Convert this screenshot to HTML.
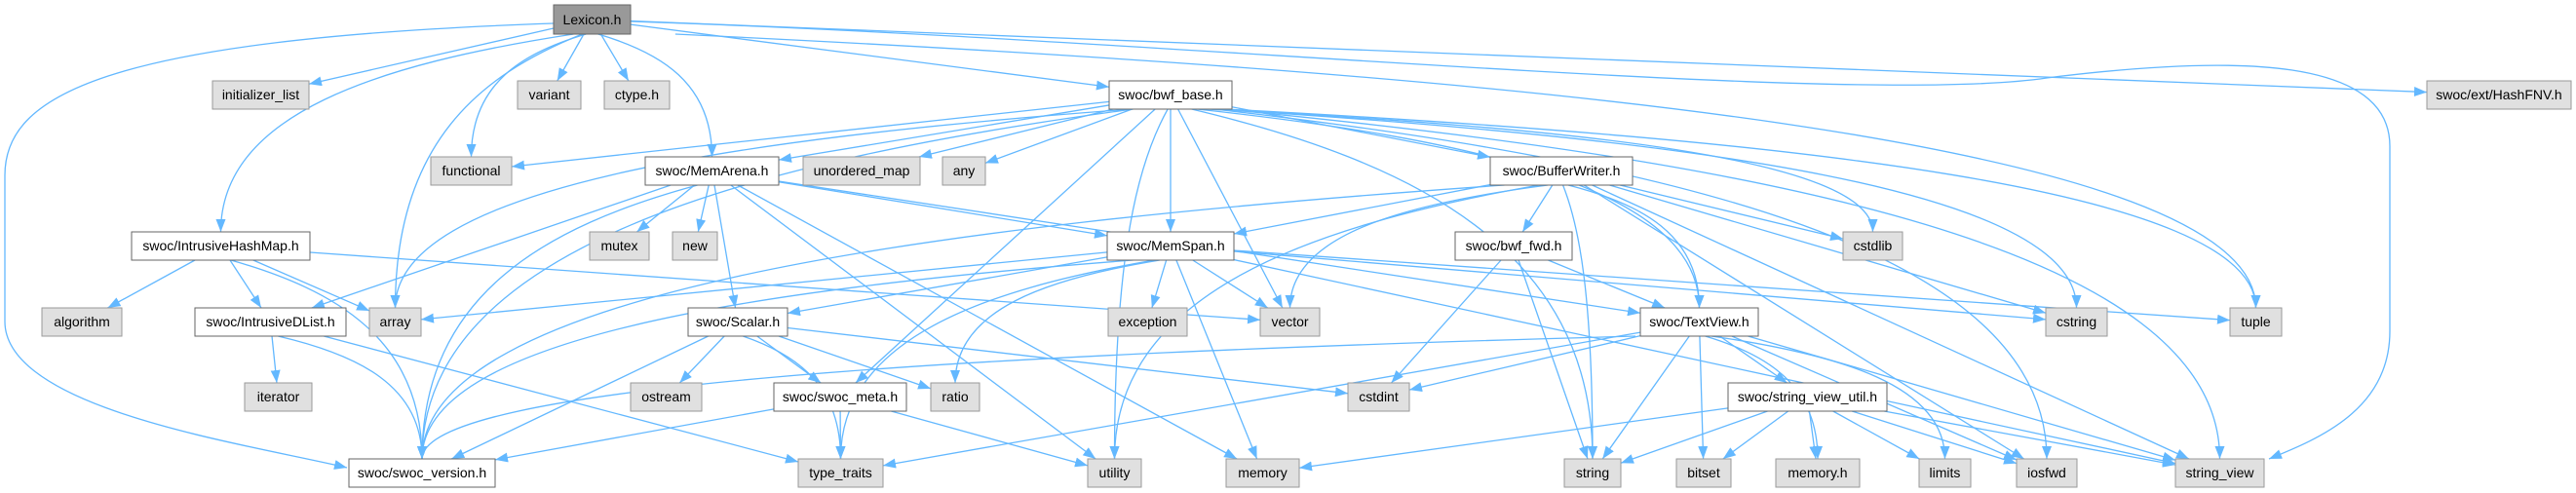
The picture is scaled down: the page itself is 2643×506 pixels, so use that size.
<!DOCTYPE html>
<html><head><meta charset="utf-8">
<style>
html,body{margin:0;padding:0;background:#fff;}
svg{display:block;}
text{font-family:"Liberation Sans",sans-serif;font-size:14px;fill:#000;}
</style></head>
<body>
<svg id="g" width="2643" height="506" viewBox="0 0 2643 506" xmlns="http://www.w3.org/2000/svg">
<defs>
<marker id="ah" markerUnits="userSpaceOnUse" markerWidth="14" markerHeight="12" refX="13" refY="5" orient="auto">
<path d="M0,0 L13,5 L0,10 Z" fill="#63b8ff"/>
</marker>
</defs>
<g id="edges" fill="none" stroke="#63b8ff" stroke-width="1.3">
<path d="M568,24 C100,40 5,100 5,180 L5,330 C5,420 250,455 356,480" marker-end="url(#ah)"/>
<path d="M647,22 C1200,40 1900,110 2100,80 C2300,55 2452,60 2452,150 L2452,340 C2452,420 2380,450 2328,471" marker-end="url(#ah)"/>
</g>
<g id="nodes">
<rect x="568" y="5" width="79" height="30" fill="#999" stroke="#666"/><text x="607.5" y="25" text-anchor="middle">Lexicon.h</text>
<rect x="218" y="83" width="99" height="29" fill="#e0e0e0" stroke="#999"/><text x="267.5" y="102" text-anchor="middle">initializer_list</text>
<rect x="531" y="83" width="65" height="29" fill="#e0e0e0" stroke="#999"/><text x="563.5" y="102" text-anchor="middle">variant</text>
<rect x="620" y="83" width="67" height="29" fill="#e0e0e0" stroke="#999"/><text x="653.5" y="102" text-anchor="middle">ctype.h</text>
<rect x="1138" y="83" width="126" height="29" fill="#fff" stroke="#666"/><text x="1201" y="102" text-anchor="middle">swoc/bwf_base.h</text>
<rect x="2490" y="83" width="148" height="29" fill="#e0e0e0" stroke="#999"/><text x="2564" y="102" text-anchor="middle">swoc/ext/HashFNV.h</text>
<rect x="442" y="161" width="83" height="29" fill="#e0e0e0" stroke="#999"/><text x="483.5" y="180" text-anchor="middle">functional</text>
<rect x="662" y="161" width="137" height="29" fill="#fff" stroke="#666"/><text x="730.5" y="180" text-anchor="middle">swoc/MemArena.h</text>
<rect x="824" y="161" width="120" height="29" fill="#e0e0e0" stroke="#999"/><text x="884" y="180" text-anchor="middle">unordered_map</text>
<rect x="967" y="161" width="44" height="29" fill="#e0e0e0" stroke="#999"/><text x="989" y="180" text-anchor="middle">any</text>
<rect x="1529" y="161" width="146" height="29" fill="#fff" stroke="#666"/><text x="1602" y="180" text-anchor="middle">swoc/BufferWriter.h</text>
<rect x="135" y="238" width="183" height="29" fill="#fff" stroke="#666"/><text x="226.5" y="257" text-anchor="middle">swoc/IntrusiveHashMap.h</text>
<rect x="605" y="238" width="61" height="29" fill="#e0e0e0" stroke="#999"/><text x="635.5" y="257" text-anchor="middle">mutex</text>
<rect x="690" y="238" width="46" height="29" fill="#e0e0e0" stroke="#999"/><text x="713" y="257" text-anchor="middle">new</text>
<rect x="1136" y="238" width="130" height="29" fill="#fff" stroke="#666"/><text x="1201" y="257" text-anchor="middle">swoc/MemSpan.h</text>
<rect x="1493" y="238" width="120" height="29" fill="#fff" stroke="#666"/><text x="1553" y="257" text-anchor="middle">swoc/bwf_fwd.h</text>
<rect x="1891" y="238" width="61" height="29" fill="#e0e0e0" stroke="#999"/><text x="1921.5" y="257" text-anchor="middle">cstdlib</text>
<rect x="43" y="316" width="82" height="29" fill="#e0e0e0" stroke="#999"/><text x="84" y="335" text-anchor="middle">algorithm</text>
<rect x="200" y="316" width="155" height="29" fill="#fff" stroke="#666"/><text x="277.5" y="335" text-anchor="middle">swoc/IntrusiveDList.h</text>
<rect x="379" y="316" width="53" height="29" fill="#e0e0e0" stroke="#999"/><text x="405.5" y="335" text-anchor="middle">array</text>
<rect x="706" y="316" width="102" height="29" fill="#fff" stroke="#666"/><text x="757" y="335" text-anchor="middle">swoc/Scalar.h</text>
<rect x="1137" y="316" width="81" height="29" fill="#e0e0e0" stroke="#999"/><text x="1177.5" y="335" text-anchor="middle">exception</text>
<rect x="1293" y="316" width="61" height="29" fill="#e0e0e0" stroke="#999"/><text x="1323.5" y="335" text-anchor="middle">vector</text>
<rect x="1683" y="316" width="121" height="29" fill="#fff" stroke="#666"/><text x="1743.5" y="335" text-anchor="middle">swoc/TextView.h</text>
<rect x="2099" y="316" width="63" height="29" fill="#e0e0e0" stroke="#999"/><text x="2130.5" y="335" text-anchor="middle">cstring</text>
<rect x="2288" y="316" width="53" height="29" fill="#e0e0e0" stroke="#999"/><text x="2314.5" y="335" text-anchor="middle">tuple</text>
<rect x="251" y="393" width="69" height="29" fill="#e0e0e0" stroke="#999"/><text x="285.5" y="412" text-anchor="middle">iterator</text>
<rect x="647" y="393" width="73" height="29" fill="#e0e0e0" stroke="#999"/><text x="683.5" y="412" text-anchor="middle">ostream</text>
<rect x="794" y="393" width="136" height="29" fill="#fff" stroke="#666"/><text x="862" y="412" text-anchor="middle">swoc/swoc_meta.h</text>
<rect x="955" y="393" width="50" height="29" fill="#e0e0e0" stroke="#999"/><text x="980" y="412" text-anchor="middle">ratio</text>
<rect x="1383" y="393" width="63" height="29" fill="#e0e0e0" stroke="#999"/><text x="1414.5" y="412" text-anchor="middle">cstdint</text>
<rect x="1773" y="393" width="163" height="29" fill="#fff" stroke="#666"/><text x="1854.5" y="412" text-anchor="middle">swoc/string_view_util.h</text>
<rect x="358" y="471" width="150" height="29" fill="#fff" stroke="#666"/><text x="433" y="490" text-anchor="middle">swoc/swoc_version.h</text>
<rect x="819" y="471" width="87" height="29" fill="#e0e0e0" stroke="#999"/><text x="862.5" y="490" text-anchor="middle">type_traits</text>
<rect x="1116" y="471" width="55" height="29" fill="#e0e0e0" stroke="#999"/><text x="1143.5" y="490" text-anchor="middle">utility</text>
<rect x="1258" y="471" width="75" height="29" fill="#e0e0e0" stroke="#999"/><text x="1295.5" y="490" text-anchor="middle">memory</text>
<rect x="1605" y="471" width="58" height="29" fill="#e0e0e0" stroke="#999"/><text x="1634" y="490" text-anchor="middle">string</text>
<rect x="1720" y="471" width="56" height="29" fill="#e0e0e0" stroke="#999"/><text x="1748" y="490" text-anchor="middle">bitset</text>
<rect x="1822" y="471" width="86" height="29" fill="#e0e0e0" stroke="#999"/><text x="1865" y="490" text-anchor="middle">memory.h</text>
<rect x="1969" y="471" width="53" height="29" fill="#e0e0e0" stroke="#999"/><text x="1995.5" y="490" text-anchor="middle">limits</text>
<rect x="2069" y="471" width="62" height="29" fill="#e0e0e0" stroke="#999"/><text x="2100" y="490" text-anchor="middle">iosfwd</text>
<rect x="2232" y="471" width="91" height="29" fill="#e0e0e0" stroke="#999"/><text x="2277.5" y="490" text-anchor="middle">string_view</text>
</g>
</svg>
<script>
var N={
lex:[568,5,79,30],init:[218,83,99,29],variant:[531,83,65,29],ctype:[620,83,67,29],bwfb:[1138,83,126,29],fnv:[2490,83,148,29],
func:[442,161,83,29],arena:[662,161,137,29],umap:[824,161,120,29],any:[967,161,44,29],bw:[1529,161,146,29],
ihm:[135,238,183,29],mutex:[605,238,61,29],nw:[690,238,46,29],span:[1136,238,130,29],fwd:[1493,238,120,29],cstdlib:[1891,238,61,29],
algo:[43,316,82,29],idl:[200,316,155,29],array:[379,316,53,29],scalar:[706,316,102,29],exc:[1137,316,81,29],vector:[1293,316,61,29],tv:[1683,316,121,29],cstring:[2099,316,63,29],tuple:[2288,316,53,29],
iter:[251,393,69,29],ostream:[647,393,73,29],meta:[794,393,136,29],ratio:[955,393,50,29],cstdint:[1383,393,63,29],svu:[1773,393,163,29],
ver:[358,471,150,29],tt:[819,471,87,29],util:[1116,471,55,29],mem:[1258,471,75,29],str:[1605,471,58,29],bitset:[1720,471,56,29],memh:[1822,471,86,29],limits:[1969,471,53,29],iosfwd:[2069,471,62,29],sv:[2232,471,91,29]};
var E=[
['lex','init'],['lex','variant'],['lex','ctype'],['lex','func',1],['lex','array',1],['lex','ihm',1],['lex','arena',1],['lex','bwfb'],['lex','fnv'],['lex','tuple',1],
['ihm','algo'],['ihm','idl'],['ihm','array'],['ihm','ver',1],['ihm','vector'],
['idl','iter'],['idl','ver',1],['idl','tt'],
['arena','mutex'],['arena','nw'],['arena','scalar'],['arena','idl'],['arena','span'],['arena','util'],['arena','mem'],['arena','tv'],['arena','ver',1],
['bwfb','arena'],['bwfb','umap'],['bwfb','any'],['bwfb','func'],['bwfb','array',1],['bwfb','ver',1],['bwfb','meta'],['bwfb','util',1],['bwfb','span'],['bwfb','vector'],['bwfb','str',1],['bwfb','bw'],['bwfb','tv',1],['bwfb','cstdlib',1],['bwfb','cstring',1],['bwfb','iosfwd',1],['bwfb','tuple',1],['bwfb','sv',1],
['bw','fwd'],['bw','span'],['bw','vector',1],['bw','cstdlib'],['bw','cstring'],['bw','str',1],['bw','tv',1],['bw','iosfwd'],['bw','sv'],['bw','util',1],['bw','ver',1],
['span','exc'],['span','vector'],['span','ratio',1],['span','mem'],['span','tt',1],['span','scalar'],['span','array'],['span','ver',1],['span','cstring'],['span','tuple'],['span','sv'],
['fwd','tv'],['fwd','cstdint'],['fwd','str'],
['scalar','ostream'],['scalar','meta'],['scalar','ratio'],['scalar','tt',1],['scalar','ver'],['scalar','cstdint'],
['meta','tt'],['meta','util'],['meta','ver'],
['tv','cstdint'],['tv','svu'],['tv','str'],['tv','bitset'],['tv','memh',1],['tv','limits',1],['tv','iosfwd'],['tv','sv'],['tv','ver',1],['tv','tt'],
['svu','mem'],['svu','str'],['svu','bitset'],['svu','memh'],['svu','limits'],['svu','iosfwd'],['svu','sv']];
function clip(b,cx,cy,dx,dy){var hw=b[2]/2,hh=b[3]/2;var t=Math.min(dx?hw/Math.abs(dx):1e9,dy?hh/Math.abs(dy):1e9);return [cx+dx*t,cy+dy*t];}
var g=document.getElementById('edges'),ns='http://www.w3.org/2000/svg';
E.forEach(function(e){var a=N[e[0]],b=N[e[1]];
var ax=a[0]+a[2]/2,ay=a[1]+a[3]/2,bx=b[0]+b[2]/2,by=b[1]+b[3]/2;
var p=document.createElementNS(ns,'path');var d;
if(e[2]){var s=[ax+(bx-ax)*0.05, a[1]+a[3]];var t=clip(b,bx,by,0,-1);
var dy=t[1]-s[1];d='M'+s[0]+','+s[1]+' C'+(s[0]+(t[0]-s[0])*0.55)+','+(s[1]+dy*0.15)+' '+t[0]+','+(t[1]-dy*0.6)+' '+t[0]+','+t[1];}
else{var dx=bx-ax,dy2=by-ay;var s2=clip(a,ax,ay,dx,dy2),t2=clip(b,bx,by,-dx,-dy2);d='M'+s2[0]+','+s2[1]+' L'+t2[0]+','+t2[1];}
p.setAttribute('d',d);p.setAttribute('marker-end','url(#ah)');g.appendChild(p);});
</script>
</body></html>
